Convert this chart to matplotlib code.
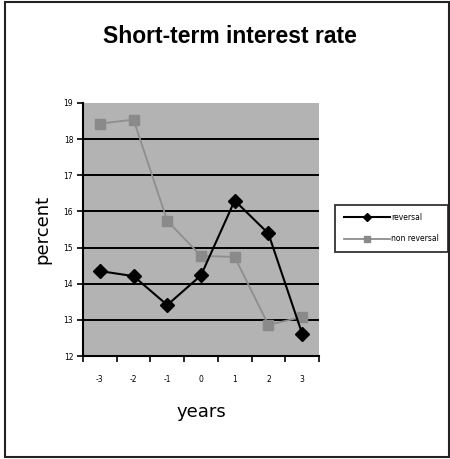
import numpy as np
import matplotlib.pyplot as plt
from matplotlib.patches import Rectangle

years = [-3, -2, -1, 0, 1, 2, 3]
reversal = [14.35, 14.21, 13.41, 14.23, 16.30, 15.39, 12.62]
non_reversal = [18.43, 18.54, 15.74, 14.77, 14.74, 12.86, 13.08]
y_ticks = [12, 13, 14, 15, 16, 17, 18, 19]

fig = plt.figure(figsize=(4.5, 4.59), dpi=100)
fig.patch.set_facecolor('white')

# outer chart frame
fig.patches.append(Rectangle((0.012, 0.004), 0.986, 0.992, transform=fig.transFigure,
                             fill=False, edgecolor='#222222', linewidth=1.5))

ax = fig.add_axes([0.1844, 0.2244, 0.5244, 0.5512])
ax.set_facecolor('#b3b3b3')

x = np.arange(len(years))
ax.plot(x, non_reversal, color='#8e8e8e', linewidth=1.3, marker='s', markersize=7,
        markerfacecolor='#8a8a8a', markeredgecolor='#8a8a8a', label='non reversal', zorder=3)
ax.plot(x, reversal, color='black', linewidth=1.5, marker='D', markersize=7,
        markerfacecolor='black', markeredgecolor='black', label='reversal', zorder=4)

ax.set_xlim(-0.5, len(years) - 0.5)
ax.set_ylim(12, 19)
ax.set_yticks(y_ticks)
ax.set_yticklabels([str(v) for v in y_ticks], fontsize=5.5)
for v in y_ticks[1:-1]:
    ax.axhline(v, color='black', linewidth=1.4, zorder=1)

# category axis: ticks between categories, labels centered
ax.set_xticks(np.arange(-0.5, len(years), 1.0))
ax.set_xticklabels([])
ax.set_xticks(x, minor=True)
ax.set_xticklabels([str(y) for y in years], minor=True, fontsize=5.5)
ax.tick_params(axis='x', which='minor', length=0, pad=14)
ax.tick_params(axis='x', which='major', length=4, width=1.2, direction='out')
ax.tick_params(axis='y', length=4, width=1.2, direction='out', pad=3)

for side in ['top', 'right']:
    ax.spines[side].set_visible(False)
for side in ['left', 'bottom']:
    ax.spines[side].set_linewidth(1.5)

ax.set_xlabel('years', fontsize=13, labelpad=13)
ax.set_ylabel('percent', fontsize=13, labelpad=9)

fig.text(0.51, 0.921, 'Short-term interest rate', ha='center', va='center',
         fontsize=16.5, fontweight='bold', family=['Liberation Sans Narrow', 'Liberation Sans'])

handles, labels = ax.get_legend_handles_labels()
leg = ax.legend(handles[::-1], labels[::-1], loc='center left',
                bbox_to_anchor=(1.07, 0.505), fontsize=5.5, frameon=True,
                fancybox=False, edgecolor='black', handlelength=6, markerscale=0.6,
                borderpad=1.1, labelspacing=1.6, handletextpad=0.2, borderaxespad=0)
leg.get_frame().set_linewidth(1.3)

fig.savefig('out.png', dpi=100)
